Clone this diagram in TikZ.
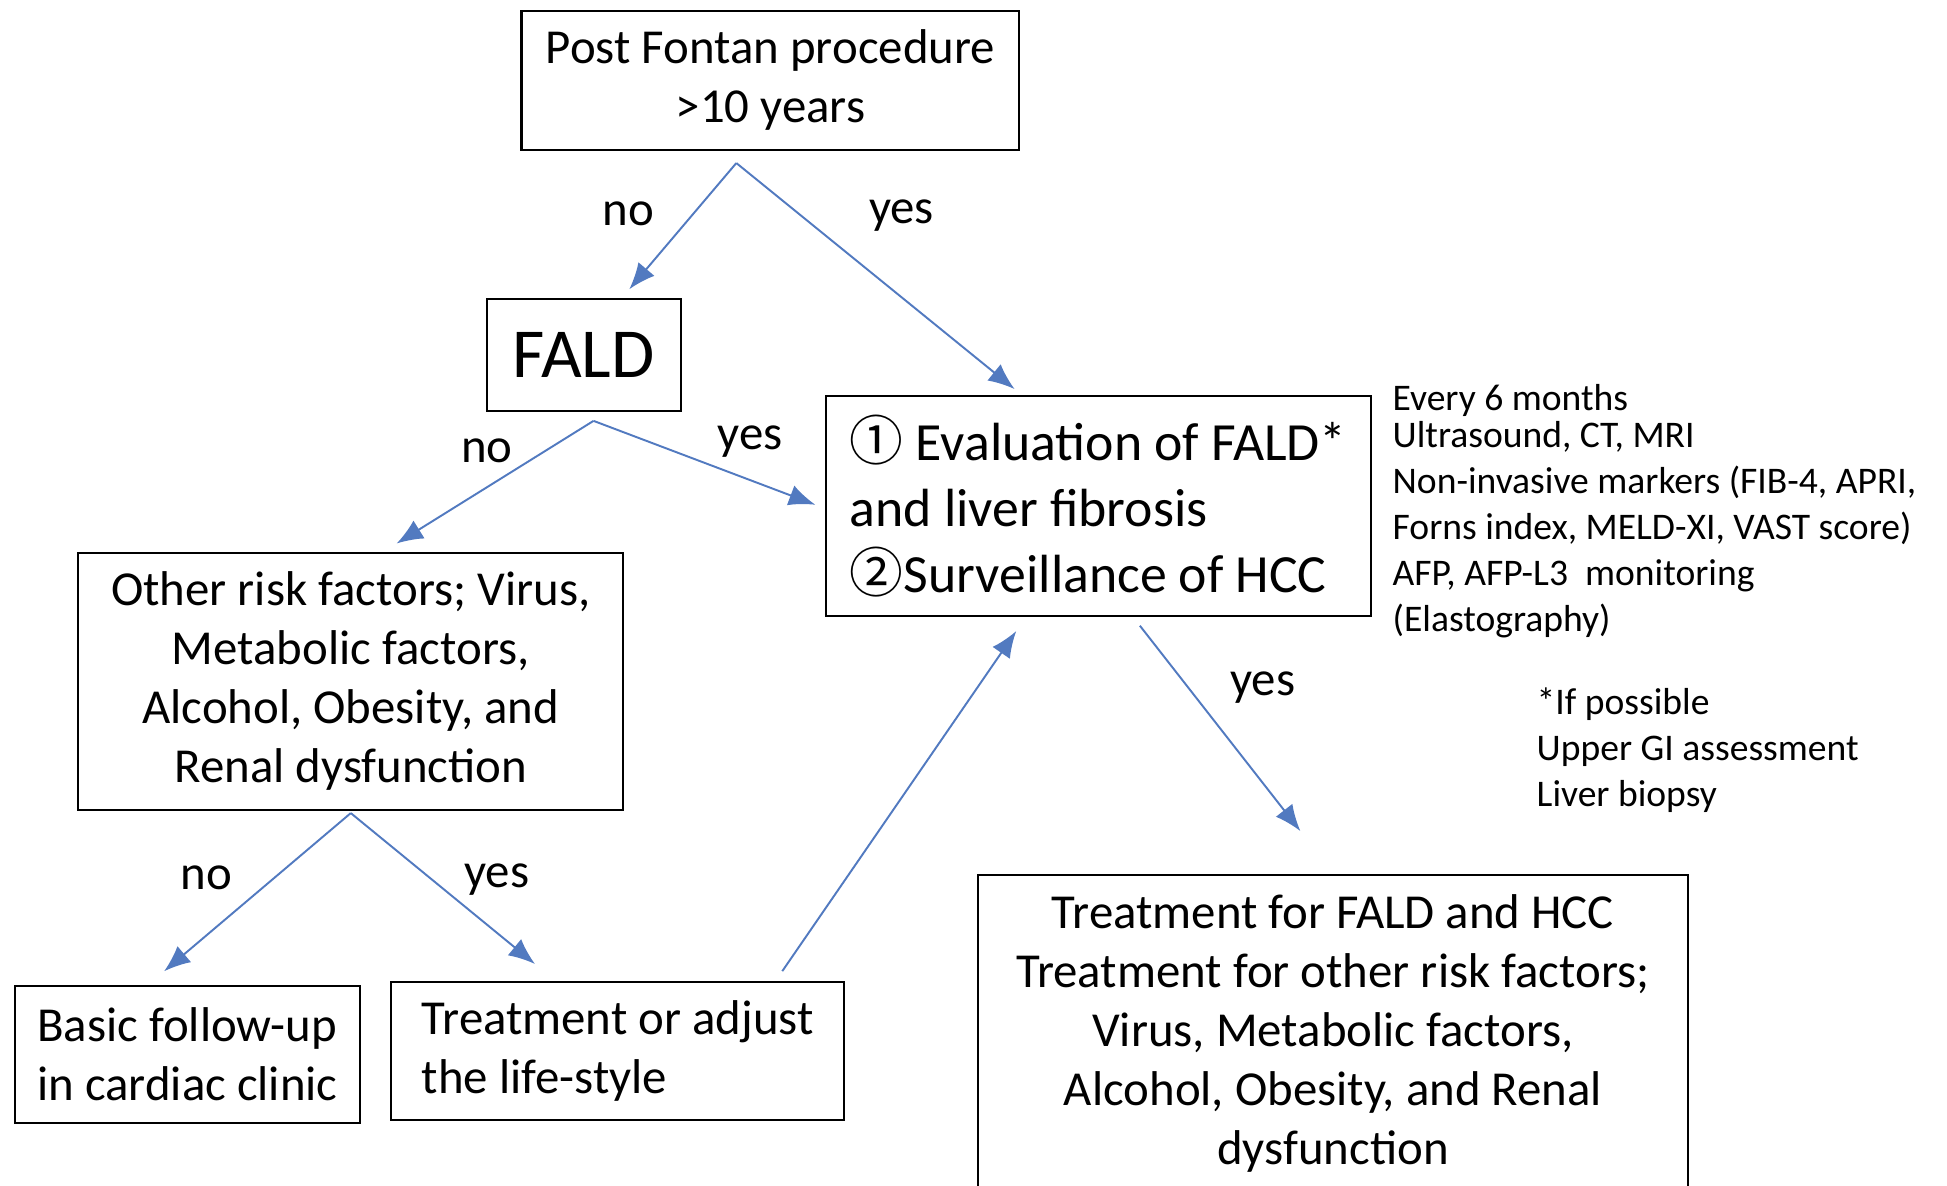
\documentclass[tikz,border=0pt]{standalone}
\usepackage{fontspec}
\setmainfont{Carlito}
\newfontfamily\cjk{Noto Sans CJK JP}
\usetikzlibrary{arrows.meta, calc}
\definecolor{arrowblue}{RGB}{82,122,192}
\tikzset{
  box/.style = {rectangle, draw, line width=0.6pt, align=center, inner sep=0pt, font=\fontsize{13.9}{16.8}\selectfont},
  leftbox/.style = {box, align=left},
  arrow/.style = {draw=arrowblue, line width=0.55pt, -{Latex[length=7.5pt, width=6pt]}, shorten >=1pt},
  lbl/.style = {inner sep=0pt, font=\fontsize{13.9}{16.8}\selectfont},
  note/.style = {align=left, inner sep=0pt, anchor=north west, font=\fontsize{10.7}{13.1}\selectfont}
}

\begin{document}
\begin{tikzpicture}[x=0.012417cm, y=-0.012417cm]
  \useasboundingbox (0,0) rectangle (1568,955);

  % Kaesten
  \node[box, minimum width=4.98cm, minimum height=1.39cm] (post) at (620.5,64.5) {Post Fontan procedure\\>10 years};
  \node[box, font=\fontsize{20}{24}\selectfont, minimum width=1.94cm, minimum height=1.12cm] (fald) at (470,286) {FALD};
  \node[leftbox, font=\fontsize{15.3}{18.7}\selectfont, minimum width=5.45cm, minimum height=2.2cm] (eval) at (884.5,407.5)
    {{\cjk ①} Evaluation of FALD*\\and liver fibrosis\\{\cjk ②}Surveillance of HCC};
  \node[box, minimum width=5.45cm, minimum height=2.57cm] (risk) at (282.5,548.5)
    {Other risk factors; Virus,\\Metabolic factors,\\Alcohol, Obesity, and\\Renal dysfunction};
  \node[leftbox, minimum width=3.45cm, minimum height=1.37cm] (basic) at (151,849) {Basic follow-up\\in cardiac clinic};
  \node[leftbox, minimum width=4.53cm, minimum height=1.38cm] (adjust) at (497.5,846.5) {Treatment or adjust\\the life-style};
  \node[box, minimum width=7.11cm, minimum height=3.17cm] (treat) at (1073.5,832)
    {Treatment for FALD and HCC\\Treatment for other risk factors;\\Virus, Metabolic factors,\\Alcohol, Obesity, and Renal\\dysfunction};

  % Hinweise rechts
  \node[note] (exams) at (1121,309)
    {Every 6 months\\[-2.5pt]Ultrasound, CT, MRI\\Non-invasive markers (FIB-4, APRI,\\Forns index, MELD-XI, VAST score)\\AFP, AFP-L3~ monitoring\\(Elastography)};
  \node[note] (optional) at (1237,553) {*If possible\\Upper GI assessment\\Liver biopsy};

  % Beschriftungen
  \node[lbl] (no1) at (506,172) {no};
  \node[lbl] (yes1) at (726,174) {yes};
  \node[lbl] (no2) at (392,363) {no};
  \node[lbl] (yes2) at (604,356) {yes};
  \node[lbl] (no3) at (166,707) {no};
  \node[lbl] (yes3) at (400,708) {yes};
  \node[lbl] (yes4) at (1017,554) {yes};

  % Verbindungen
  \coordinate (s1) at ($(post.south)+(-27.5,10)$);
  \coordinate (s2) at ($(fald.south)+(8,7)$);
  \coordinate (s3) at ($(risk.south)+(0,2)$);
  \draw[arrow] (s1) -- ($(fald.north)+(35,-5)$);
  \draw[arrow] (s1) -- ($(eval.north west)+(155,-3)$);
  \draw[arrow] (s2) -- ($(risk.north)+(34.5,-5)$);
  \draw[arrow] (s2) -- ($(eval.west)+(-5,0)$);
  \draw[arrow] (s3) -- ($(basic.north)+(-21,-9)$);
  \draw[arrow] (s3) -- ($(adjust.north)+(-64.5,-12)$);
  \draw[arrow] ($(adjust.north)+(132.5,-8)$) -- ($(eval.south)+(-64.5,9)$);
  \draw[arrow] ($(eval.south)+(33.5,7)$) -- ($(treat.north)+(-24.5,-32)$);
\end{tikzpicture}
\end{document}
